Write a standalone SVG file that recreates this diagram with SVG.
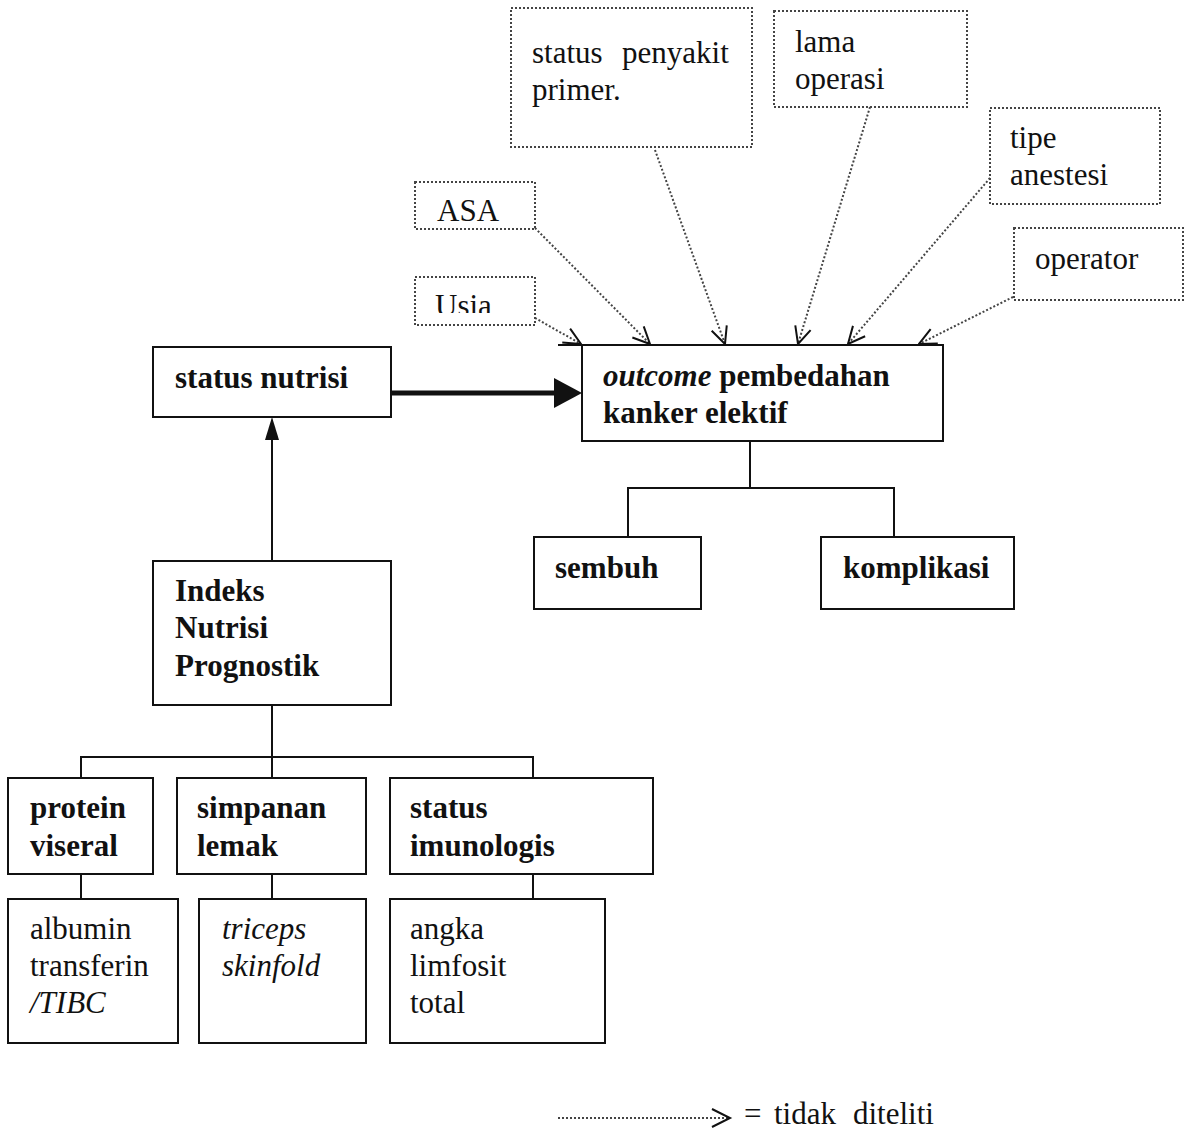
<svg xmlns="http://www.w3.org/2000/svg" width="1185" height="1132" viewBox="0 0 1185 1132">
<style>
text{font-family:"Liberation Serif","Times New Roman",serif;font-size:31px;fill:#111}
.b{font-weight:bold}
.i{font-style:italic}
.box{fill:none;stroke:#111;stroke-width:2}
.dbox{fill:none;stroke:#444;stroke-width:2;stroke-dasharray:2 2}
.ln{fill:none;stroke:#111;stroke-width:2}
.dl{fill:none;stroke:#444;stroke-width:2;stroke-dasharray:2 2}
</style>
<defs>
<marker id="v" markerUnits="userSpaceOnUse" viewBox="0 0 20 20" refX="19" refY="10" markerWidth="20" markerHeight="20" orient="auto">
<path d="M2,2 L19,10 L2,18" fill="none" stroke="#111" stroke-width="2"/>
</marker>
<clipPath id="cu"><rect x="414" y="277" width="122" height="36"/></clipPath>
</defs>
<rect width="1185" height="1132" fill="#fff"/>

<g id="connectors">
<line class="dl" x1="535" y1="318" x2="581" y2="344" marker-end="url(#v)"/>
<line class="dl" x1="535" y1="228" x2="650" y2="344" marker-end="url(#v)"/>
<line class="dl" x1="655" y1="150" x2="725" y2="344" marker-end="url(#v)"/>
<line class="dl" x1="870" y1="107" x2="798" y2="344" marker-end="url(#v)"/>
<line class="dl" x1="990" y1="178" x2="848" y2="344" marker-end="url(#v)"/>
<line class="dl" x1="1013" y1="297" x2="919" y2="344" marker-end="url(#v)"/>
<line x1="391" y1="393" x2="557" y2="393" stroke="#111" stroke-width="5"/>
<polygon points="554,378 582,393 554,408" fill="#111"/>
<line class="ln" x1="272" y1="561" x2="272" y2="438"/>
<polygon points="265,440 272,417 279,440" fill="#111"/>
<polyline class="ln" points="750,441 750,488"/>
<polyline class="ln" points="628,537 628,488 894,488 894,537"/>
<polyline class="ln" points="272,705 272,757"/>
<polyline class="ln" points="81,778 81,757 533,757 533,778"/>
<line class="ln" x1="272" y1="757" x2="272" y2="778"/>
<line class="ln" x1="81" y1="874" x2="81" y2="899"/>
<line class="ln" x1="272" y1="874" x2="272" y2="899"/>
<line class="ln" x1="533" y1="874" x2="533" y2="899"/>
</g>

<g id="status-penyakit">
<rect class="dbox" x="511" y="8" width="241" height="139"/>
<text x="532" y="63">status</text><text x="622" y="63">penyakit</text>
<text x="532" y="100">primer.</text>
</g>
<g id="lama-operasi">
<rect class="dbox" x="774" y="11" width="193" height="96"/>
<text x="795" y="52">lama</text>
<text x="795" y="89">operasi</text>
</g>
<g id="tipe-anestesi">
<rect class="dbox" x="990" y="108" width="170" height="96"/>
<text x="1010" y="148">tipe</text>
<text x="1010" y="185">anestesi</text>
</g>
<g id="asa">
<rect class="dbox" x="415" y="182" width="120" height="47"/>
<text x="437" y="221">ASA</text>
</g>
<g id="usia">
<rect class="dbox" x="415" y="277" width="120" height="48"/>
<text x="435" y="316" clip-path="url(#cu)">Usia</text>
</g>
<g id="operator">
<rect class="dbox" x="1014" y="228" width="169" height="72"/>
<text x="1035" y="269">operator</text>
</g>
<g id="outcome">
<rect class="box" x="582" y="345" width="361" height="96"/>
<line class="ln" x1="558" y1="345" x2="582" y2="345"/>
<text x="603" y="386" class="b"><tspan class="i">outcome</tspan> pembedahan</text>
<text x="603" y="423" class="b">kanker elektif</text>
</g>
<g id="status-nutrisi">
<rect class="box" x="153" y="347" width="238" height="70"/>
<text x="175" y="388" class="b">status nutrisi</text>
</g>
<g id="sembuh">
<rect class="box" x="534" y="537" width="167" height="72"/>
<text x="555" y="578" class="b">sembuh</text>
</g>
<g id="komplikasi">
<rect class="box" x="821" y="537" width="193" height="72"/>
<text x="843" y="578" class="b">komplikasi</text>
</g>
<g id="indeks">
<rect class="box" x="153" y="561" width="238" height="144"/>
<text x="175" y="601" class="b">Indeks</text>
<text x="175" y="638" class="b">Nutrisi</text>
<text x="175" y="676" class="b">Prognostik</text>
</g>
<g id="protein-viseral">
<rect class="box" x="8" y="778" width="145" height="96"/>
<text x="30" y="818" class="b">protein</text>
<text x="30" y="856" class="b">viseral</text>
</g>
<g id="simpanan-lemak">
<rect class="box" x="177" y="778" width="189" height="96"/>
<text x="197" y="818" class="b">simpanan</text>
<text x="197" y="856" class="b">lemak</text>
</g>
<g id="status-imunologis">
<rect class="box" x="390" y="778" width="263" height="96"/>
<text x="410" y="818" class="b">status</text>
<text x="410" y="856" class="b">imunologis</text>
</g>
<g id="albumin">
<rect class="box" x="8" y="899" width="170" height="144"/>
<text x="30" y="939">albumin</text>
<text x="30" y="976">transferin</text>
<text x="30" y="1013" class="i">/TIBC</text>
</g>
<g id="triceps">
<rect class="box" x="199" y="899" width="167" height="144"/>
<text x="222" y="939" class="i">triceps</text>
<text x="222" y="976" class="i">skinfold</text>
</g>
<g id="angka">
<rect class="box" x="390" y="899" width="215" height="144"/>
<text x="410" y="939">angka</text>
<text x="410" y="976">limfosit</text>
<text x="410" y="1013">total</text>
</g>
<g id="legend">
<line class="dl" x1="558" y1="1118" x2="728" y2="1118"/>
<path d="M712,1109 L730,1118 L712,1127" fill="none" stroke="#111" stroke-width="2"/>
<text x="744" y="1124">=</text>
<text x="774" y="1124">tidak</text>
<text x="853" y="1124">diteliti</text>
</g>
</svg>
